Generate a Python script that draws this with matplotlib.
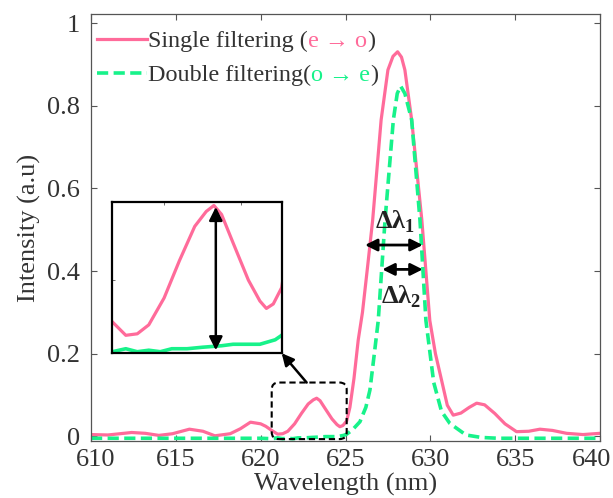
import numpy as np
import matplotlib
matplotlib.use('Agg')
from matplotlib import pyplot as plt
from matplotlib.patches import FancyBboxPatch
from matplotlib.transforms import ScaledTranslation

plt.rcParams['font.family'] = ['Liberation Serif', 'DejaVu Serif']
plt.rcParams['mathtext.fontset'] = 'custom'
plt.rcParams['mathtext.rm'] = 'Liberation Serif'
plt.rcParams['mathtext.bf'] = 'Liberation Serif:bold'

# single filtering (e -> o) spectrum
wl_single = [610.0, 611.0, 611.7, 612.4, 613.2, 614.0, 614.8, 615.8, 616.6, 617.3,
             618.2, 618.8, 619.4, 620.0, 620.3, 620.65, 621.0, 621.3, 621.6, 622.0,
             622.4, 622.8, 623.1, 623.3, 623.5, 623.8, 624.2, 624.5, 624.67, 624.85,
             625.07, 625.26, 625.5, 625.75, 626.0, 626.3, 626.6, 627.1, 627.5, 627.8,
             628.07, 628.3, 628.5, 628.9, 629.5, 629.97, 630.3, 630.66, 631.0, 631.35,
             631.8, 632.3, 632.73, 633.2, 633.8, 634.4, 635.08, 635.8, 636.46, 637.2,
             638.03, 639.0, 640.0]
int_single = [0.004, 0.003, 0.006, 0.009, 0.007, 0.002, 0.006, 0.017, 0.012, 0.001,
              0.006, 0.018, 0.034, 0.03, 0.024, 0.014, 0.005, 0.006, 0.012, 0.03,
              0.055, 0.078, 0.088, 0.092, 0.086, 0.067, 0.042, 0.028, 0.023, 0.026,
              0.037, 0.07, 0.14, 0.233, 0.3, 0.41, 0.523, 0.766, 0.887, 0.92,
              0.931, 0.918, 0.887, 0.766, 0.523, 0.28, 0.2, 0.136, 0.075, 0.051,
              0.056, 0.07, 0.08, 0.076, 0.055, 0.03, 0.011, 0.012, 0.017, 0.014,
              0.007, 0.004, 0.007]

# double filtering (o -> e) spectrum
wl_double = [610.0, 611.0, 612.0, 613.0, 614.0, 615.0, 616.0, 617.0, 618.0, 619.0,
             620.0, 620.65, 621.0, 621.3, 621.6, 621.9, 622.2, 622.6, 623.0, 623.5,
             623.8, 624.2, 624.5, 624.9, 625.07, 625.4, 625.85, 626.2, 626.44, 626.7,
             626.93, 627.33, 627.82, 628.05, 628.25, 628.5, 628.9, 629.39, 629.74, 630.2,
             630.66, 631.15, 632.1, 633.0, 634.0, 635.0, 636.0, 637.0, 638.0, 639.0,
             640.0]
int_double = [-0.005, -0.005, -0.005, -0.005, -0.005, -0.005, -0.005, -0.005, -0.005, -0.005,
              -0.005, -0.006, -0.004, -0.006, -0.005, -0.006, -0.004, -0.004, -0.003, -0.002,
              -0.001, -0.001, -0.001, 0.002, 0.005, 0.015, 0.035, 0.07, 0.112, 0.2,
              0.28, 0.523, 0.766, 0.83, 0.848, 0.83, 0.766, 0.523, 0.28, 0.13,
              0.06, 0.031, 0.003, -0.003, -0.005, -0.005, -0.005, -0.005, -0.005, -0.005,
              -0.005]

xticks = [610, 615, 620, 625, 630, 635, 640]
yticks = [0, 0.2, 0.4, 0.6, 0.8, 1]
ytick_labels = ['0', '0.2', '0.4', '0.6', '0.8', '1']

# linewidth markers (start, end, height) for the two bandwidths
fwhm_single = (626.15, 629.55, 0.463)
fwhm_double = (627.17, 629.55, 0.404)

pink = '#FF6B9A'
green = '#17F28A'
txt = '#333333'


def main():
    fig = plt.figure(figsize=(6.13, 4.98), dpi=100)
    ax = fig.add_axes([91/613, 1 - 441/498, 509/613, 427/498])

    l1, = ax.plot(wl_single, int_single, color=pink, lw=2.3, solid_joinstyle='round')
    l2, = ax.plot(wl_double, int_double, color=green, lw=2.6, ls=(0, (3.1, 1.5)))

    ax.set_xlim(610, 640)
    ax.set_ylim(-0.0116, 1.0225)
    ax.set_xticks(xticks)
    ax.set_yticks(yticks)
    ax.set_yticklabels(ytick_labels)
    ax.tick_params(direction='in', top=True, right=True, length=4, width=0.8,
                   labelsize=19, labelcolor=txt, color='#555555')
    ax.tick_params(axis='x', pad=6)
    ax.tick_params(axis='y', pad=8)
    # keep the end labels inside the figure
    xt = ax.get_xticklabels()
    xt[0].set_transform(xt[0].get_transform() + ScaledTranslation(0.05, 0, fig.dpi_scale_trans))
    xt[-1].set_transform(xt[-1].get_transform() + ScaledTranslation(-0.08, 0, fig.dpi_scale_trans))
    for s in ax.spines.values():
        s.set_color('#555555')
        s.set_linewidth(0.9)
    ax.set_xlabel('Wavelength (nm)', fontsize=19, color=txt, labelpad=1)
    ax.set_ylabel('Intensity (a.u)', fontsize=19, color=txt, labelpad=4)

    # legend, with the polarisation part of each label coloured
    fs_leg = 17.4
    leg = ax.legend([l1, l2], ['Single filtering (', 'Double filtering('],
                    loc='upper left', bbox_to_anchor=(0.012, 0.962), frameon=False,
                    fontsize=fs_leg, handlelength=2.07, handletextpad=0.05,
                    labelspacing=0.5, borderaxespad=0, borderpad=0)
    texts = leg.get_texts()
    for t in texts:
        t.set_color(txt)
    for t, part, c in [(texts[0], 'e → o', pink), (texts[1], 'o → e', green)]:
        a = ax.annotate(part, xy=(1, 0), xycoords=t, ha='left', va='bottom',
                        fontsize=fs_leg, color=c, zorder=10)
        ax.annotate(')', xy=(1, 0), xycoords=a, ha='left', va='bottom',
                    fontsize=fs_leg, color=txt, zorder=11)

    # bandwidth arrows
    arrow = dict(arrowstyle='<|-|>', color='black', lw=2, mutation_scale=18,
                 shrinkA=0, shrinkB=0)
    ax.annotate('', xy=(fwhm_single[0], fwhm_single[2]),
                xytext=(fwhm_single[1], fwhm_single[2]), arrowprops=arrow)
    ax.annotate('', xy=(fwhm_double[0], fwhm_double[2]),
                xytext=(fwhm_double[1], fwhm_double[2]), arrowprops=arrow)
    ax.text(627.9, 0.52, r'Δλ$_\mathbf{1}$', fontsize=19, fontweight='bold',
            color='#222222', ha='center', va='center')
    ax.text(628.3, 0.338, r'Δλ$_\mathbf{2}$', fontsize=19, fontweight='bold',
            color='#222222', ha='center', va='center')

    # dashed box around the side lobe
    box = FancyBboxPatch((620.65, -0.007), 625.07 - 620.65, 0.137,
                         boxstyle='round,pad=0,rounding_size=0.42',
                         mutation_aspect=0.0411, fill=False, ec='black',
                         lw=1.5, ls=(0, (3, 1.8)), zorder=4)
    ax.add_patch(box)

    # zoomed view of the side lobe
    axin = ax.inset_axes([611.26, 0.201, 621.24 - 611.26, 0.566 - 0.201],
                         transform=ax.transData)
    axin.plot(wl_single, int_single, color=pink, lw=2.3)
    axin.plot(wl_double, int_double, color=green, lw=2.6)
    axin.set_xlim(620.65, 625.07)
    axin.set_ylim(-0.007, 0.094)
    axin.set_xticks([622, 624])
    axin.set_yticks([0.042])
    axin.tick_params(direction='in', top=True, bottom=False, length=2, width=0.6,
                     labelbottom=False, labelleft=False, color='#555555')
    for s in axin.spines.values():
        s.set_linewidth(1.6)
        s.set_color('black')
    axin.annotate('', xy=(623.35, 0.091), xytext=(623.35, -0.005),
                  arrowprops=dict(arrowstyle='<|-|>', color='black', lw=1.8,
                                  mutation_scale=20, shrinkA=0, shrinkB=0))

    ax.annotate('', xy=(621.24, 0.201), xytext=(622.71, 0.13),
                arrowprops=dict(arrowstyle='-|>', color='black', lw=1.8,
                                mutation_scale=18, shrinkA=0, shrinkB=0))

    fig.savefig('out.png', dpi=100)


if __name__ == '__main__':
    main()
